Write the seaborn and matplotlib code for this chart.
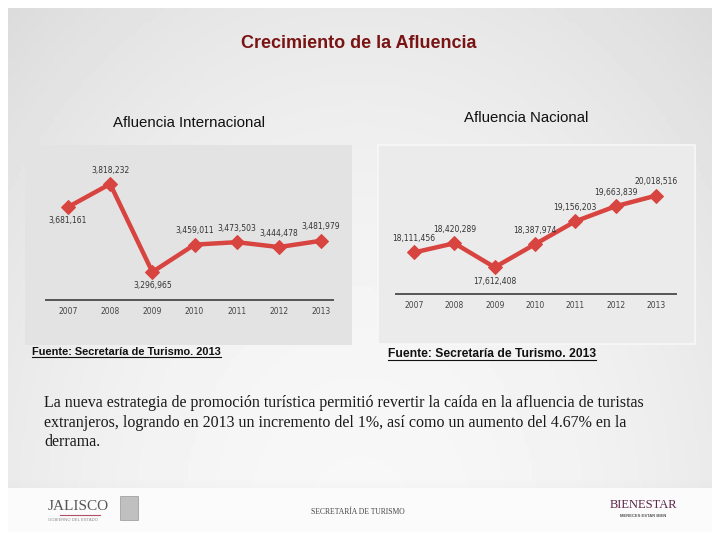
import numpy as np
import pandas as pd
import seaborn as sns
import matplotlib.pyplot as plt
from matplotlib.patches import Rectangle
from matplotlib.lines import Line2D

years = [2007, 2008, 2009, 2010, 2011, 2012, 2013]
internacional = [3681161, 3818232, 3296965, 3459011, 3473503, 3444478, 3481979]
nacional = [18111456, 18420289, 17612408, 18387974, 19156203, 19663839, 20018516]
year_labels = [str(y) for y in years]
# where each value label sits: -1 below the point, 1 above
pos_int = [-1, 1, -1, 1, 1, 1, 1]
pos_nac = [1, 1, -1, 1, 1, 1, 1]

titulo = 'Crecimiento de la Afluencia'
sub_int = 'Afluencia Internacional'
sub_nac = 'Afluencia Nacional'
fuente = 'Fuente: Secretaría de Turismo. 2013'
parrafo = ('La nueva estrategia de promoción turística permitió revertir la caída en la afluencia de turistas\n'
           'extranjeros, logrando en 2013 un incremento del 1%, así como un aumento del 4.67% en la\n'
           'derrama.')

red = '#d8443f'
narrow = ['Liberation Sans Narrow', 'DejaVu Sans']

W, H = 720, 540
fig = plt.figure(figsize=(7.2, 5.4), dpi=100)
fig.patch.set_facecolor('white')


def fx(x):
    return x / W


def fy(y):
    return 1 - y / H


# slide background, grey with a lighter middle
bg = fig.add_axes([fx(8), fy(532), fx(704), 524 / H], zorder=-10)
gx = np.linspace(-1, 1, 200)
gy = np.linspace(0, 1, 150)
GX, GY = np.meshgrid(gx, gy)
shade = 0.97 - 0.05 * GX ** 2 - 0.06 * (1 - GY) ** 2
bg.imshow(shade, cmap='gray', vmin=0, vmax=1, aspect='auto')
bg.axis('off')

# chart panels
fig.add_artist(Rectangle((fx(25), fy(345)), fx(327), 200 / H, transform=fig.transFigure,
                         facecolor='#e3e3e3', edgecolor='none', zorder=-5))
fig.add_artist(Rectangle((fx(378), fy(344)), fx(317), 199 / H, transform=fig.transFigure,
                         facecolor='#ebebeb', edgecolor='#f8f8f8', linewidth=1.2, zorder=-5))

# footer band
fig.add_artist(Rectangle((fx(8), fy(532)), fx(704), 44 / H, transform=fig.transFigure,
                         facecolor='#fbfbfb', edgecolor='none', zorder=-4))
for i in range(8):
    fig.add_artist(Rectangle((fx(8), fy(488 - i)), fx(704), 1 / H, transform=fig.transFigure,
                             facecolor='#d0d0d0', alpha=0.08 * (8 - i) / 8, edgecolor='none', zorder=-4))


def draw_chart(rect, values, pos, xlim, ylim):
    ax = fig.add_axes(rect)
    df = pd.DataFrame({'year': years, 'value': values})
    sns.lineplot(data=df, x='year', y='value', ax=ax, color=red, linewidth=3.2,
                 marker='D', markersize=7, markeredgecolor=red)
    ax.set_xlim(*xlim)
    ax.set_ylim(*ylim)
    ax.set_facecolor('none')
    for s in ['top', 'right', 'left']:
        ax.spines[s].set_visible(False)
    ax.spines['bottom'].set_color('#555555')
    ax.spines['bottom'].set_linewidth(1.4)
    ax.set_xticks(years)
    ax.set_xticklabels(year_labels, fontsize=5.5, color='#444444', family=narrow)
    ax.tick_params(axis='x', length=0, pad=5)
    ax.set_yticks([])
    ax.set_xlabel('')
    ax.set_ylabel('')
    for yr, v, p in zip(years, values, pos):
        ax.annotate(f'{v:,}', (yr, v), xytext=(0, 10 * p), textcoords='offset points',
                    ha='center', va='center', fontsize=5.5, color='#333333', family=narrow)
    return ax


draw_chart([fx(46), fy(300), fx(287), 155 / H], internacional, pos_int,
           (2006.48, 2013.28), (3131000, 4049000))
draw_chart([fx(396), fy(294), fx(280), 149 / H], nacional, pos_nac,
           (2006.55, 2013.5), (16715000, 21722000))

# headings
fig.text(fx(359), fy(44), titulo, ha='center', va='center', fontsize=13,
         fontweight='bold', color='#7a1414', family='Liberation Sans')
fig.text(fx(189), fy(123), sub_int, ha='center', va='center', fontsize=10.8,
         color='#111111', family='Liberation Sans')
fig.text(fx(526), fy(118), sub_nac, ha='center', va='center', fontsize=10.8,
         color='#111111', family='Liberation Sans')

# sources, underlined
f1 = fig.text(fx(32), fy(352), fuente, ha='left', va='center', fontsize=7.9,
              fontweight='bold', color='#111111', family='Liberation Sans')
f2 = fig.text(fx(388), fy(354), fuente, ha='left', va='center', fontsize=8.7,
              fontweight='bold', color='#111111', family='Liberation Sans')
fig.canvas.draw()
renderer = fig.canvas.get_renderer()
for t in (f1, f2):
    bb = t.get_window_extent(renderer)
    fig.add_artist(Line2D([bb.x0 / W, bb.x1 / W], [(bb.y0 + 0.5) / H, (bb.y0 + 0.5) / H],
                          transform=fig.transFigure, color='#111111', linewidth=0.8))

# paragraph
fig.text(fx(44), fy(395), parrafo, ha='left', va='top', fontsize=11.5,
         color='#1a1a1a', family='Liberation Serif', linespacing=1.3)

# footer texts
fig.text(fx(48), fy(507), 'JALISCO', ha='left', va='center', fontsize=11,
         color='#555555', family='Liberation Serif')
fig.add_artist(Line2D([fx(60), fx(100)], [fy(515), fy(515)], transform=fig.transFigure,
                      color='#b05060', linewidth=0.8))
fig.text(fx(48), fy(520), 'GOBIERNO DEL ESTADO', ha='left', va='center', fontsize=3,
         color='#888888', family='Liberation Sans')
fig.add_artist(Rectangle((fx(120), fy(520)), fx(18), 24 / H, transform=fig.transFigure,
                         facecolor='#a8a8a8', edgecolor='#777777', linewidth=0.5, alpha=0.7))
fig.text(fx(358), fy(512), 'SECRETARÍA DE TURISMO', ha='center', va='center', fontsize=5.5,
         color='#444444', family='Liberation Serif')
fig.text(fx(643), fy(505), 'BIENESTAR', ha='center', va='center', fontsize=9,
         color='#5a2448', family='Liberation Serif')
fig.text(fx(643), fy(516), 'MERECES ESTAR BIEN', ha='center', va='center', fontsize=3,
         color='#555555', fontweight='bold', family='Liberation Sans')

fig.savefig('out.png', dpi=100)
